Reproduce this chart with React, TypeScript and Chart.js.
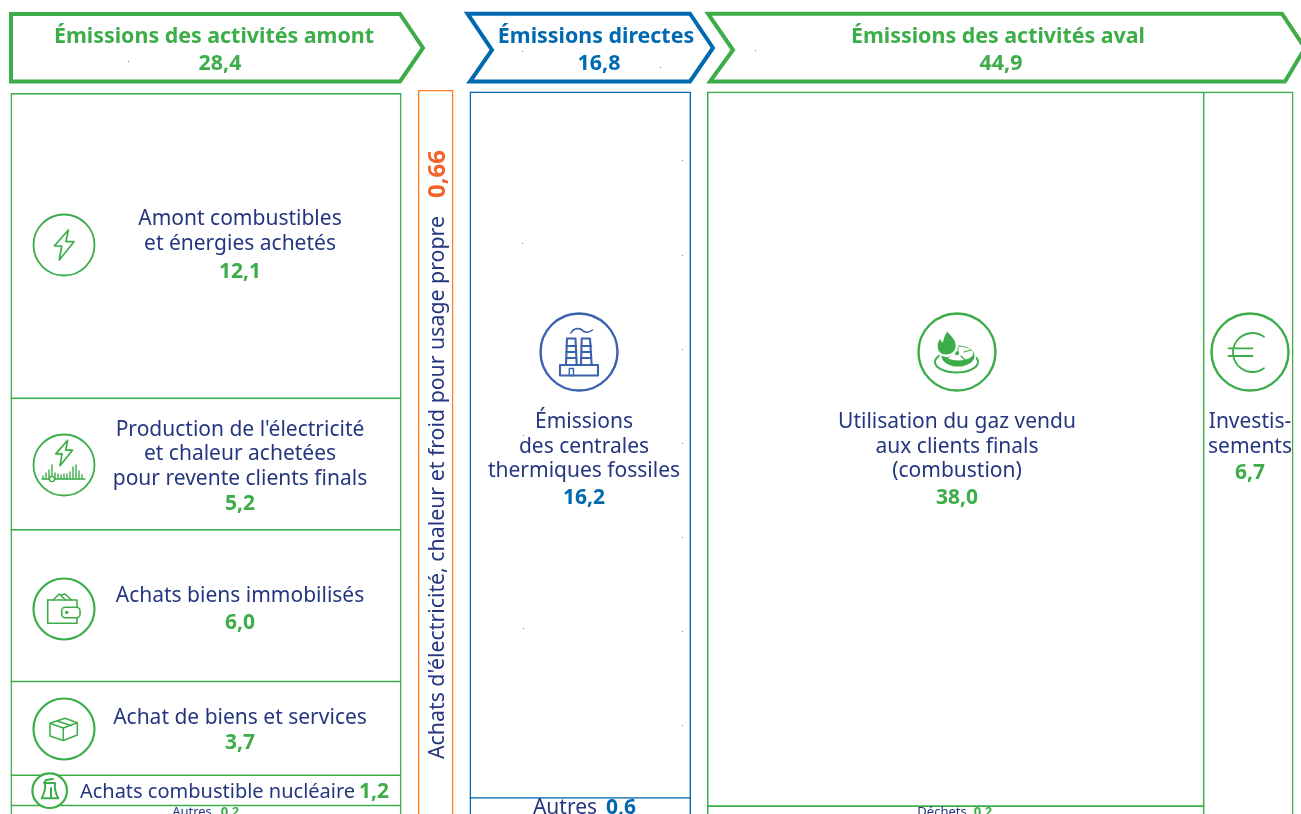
import React, { useEffect, useRef } from "react";
import { Chart, registerables } from "chart.js";

Chart.register(...registerables);

// ---------- data ----------
const upstreamCategories = ["Amont combustibles et énergies achetés", "Production de l'électricité et chaleur achetées pour revente clients finals", "Achats biens immobilisés", "Achat de biens et services", "Achats combustible nucléaire", "Autres"];
const upstreamValues = [12.1, 5.2, 6.0, 3.7, 1.2, 0.2];
const directCategories = ["Émissions des centrales thermiques fossiles", "Autres"];
const directValues = [16.2, 0.6];
const downstreamCategories = ["Utilisation du gaz vendu aux clients finals (combustion)", "Déchets"];
const downstreamValues = [38.0, 0.2];
const investmentValues = [6.7];
const ownUseValues = [0.66];
const headerTotals = ["28,4", "16,8", "44,9"];

// ---------- layout and style (px) ----------
const W = 1301, H = 814;
const GREEN = "#3DAD49", BLUE = "#0069AF", ORANGE = "#FF7F1E", VALUE_ORANGE = "#F2622A", NAVY = "#24367F", ICON_BLUE = "#3B62AE";
const FONT = "'Noto Sans'";

type Col = { id: string; cats: string[]; vals: number[]; x0: number; x1: number; top: number; ppu: number; color: string; lw: number };
const columns: Col[] = [
  { id: "yUp", cats: upstreamCategories, vals: upstreamValues, x0: 10.5, x1: 401.5, top: 93, ppu: 25.3, color: GREEN, lw: 1.7 },
  { id: "yOwn", cats: ["Achats d'électricité, chaleur et froid pour usage propre"], vals: ownUseValues, x0: 418, x1: 453.5, top: 90, ppu: 1200, color: ORANGE, lw: 1.6 },
  { id: "yDirect", cats: directCategories, vals: directValues, x0: 469.5, x1: 691, top: 91.5, ppu: 43.66, color: BLUE, lw: 1.6 },
  { id: "yDown", cats: downstreamCategories, vals: downstreamValues, x0: 707, x1: 1204.5, top: 91.5, ppu: 18.83, color: GREEN, lw: 1.7 },
  { id: "yInv", cats: ["Investissements"], vals: investmentValues, x0: 1202.8, x1: 1293.5, top: 91.5, ppu: 115, color: GREEN, lw: 1.7 },
];

function buildDatasets() {
  const ds: any[] = [];
  columns.forEach((c) => {
    const center = (c.x0 + c.x1) / 2;
    const thick = c.x1 - c.x0;
    const common = { type: "bar", yAxisID: c.id, stack: "sheet", barThickness: thick, borderColor: c.color, borderSkipped: false, inflateAmount: 0 };
    ds.push({ ...common, label: c.id + " frame", order: 5, backgroundColor: "#fff", borderWidth: c.lw, data: [{ x: center, y: [0, 60] }] });
    let sum = 0;
    c.vals.forEach((v, i) => {
      const isLast = i === c.vals.length - 1;
      ds.push({
        ...common, label: c.cats[i], order: 1, backgroundColor: "rgba(255,255,255,0)",
        borderWidth: { top: 0, left: 0, right: 0, bottom: isLast ? 0 : c.lw },
        data: [{ x: center, y: [sum, sum + v] }],
      });
      sum += v;
    });
  });
  return ds;
}

function buildScales() {
  const s: any = { x: { type: "linear", display: false, min: 0, max: W, offset: false, stacked: true } };
  columns.forEach((c) => {
    s[c.id] = { type: "linear", axis: "y", display: false, reverse: true, min: -c.top / c.ppu, max: (H - c.top) / c.ppu, stacked: false };
  });
  return s;
}

type T = [string, number, number, string, string];
const REG = `400 21px ${FONT}`, BOLD = `700 21px ${FONT}`, HEAD = `700 21.4px ${FONT}`, SMALL = `400 13px ${FONT}`, SMALLB = `700 13px ${FONT}`, NARROW = `400 20px ${FONT}`;
const texts: T[] = [
  ["Émissions des activités amont", 214, 37, HEAD, GREEN],
  [headerTotals[0], 220, 64, HEAD, GREEN],
  ["Émissions directes", 596, 37, HEAD, BLUE],
  [headerTotals[1], 599, 64, HEAD, BLUE],
  ["Émissions des activités aval", 998, 37, HEAD, GREEN],
  [headerTotals[2], 1001, 64, HEAD, GREEN],
  ["Amont combustibles", 240, 219, REG, NAVY],
  ["et énergies achetés", 240, 244, REG, NAVY],
  ["12,1", 240, 272, BOLD, GREEN],
  ["Production de l'électricité", 240, 430, REG, NAVY],
  ["et chaleur achetées", 240, 454, REG, NAVY],
  ["pour revente clients finals", 240, 479, REG, NAVY],
  ["5,2", 240, 504, BOLD, GREEN],
  ["Achats biens immobilisés", 240, 596, REG, NAVY],
  ["6,0", 240, 623, BOLD, GREEN],
  ["Achat de biens et services", 240, 718, REG, NAVY],
  ["3,7", 240, 743, BOLD, GREEN],
  ["Achats combustible nucléaire", 217.5, 792, NARROW, NAVY],
  ["1,2", 374, 792, BOLD, GREEN],
  ["Autres", 192, 812, SMALL, NAVY],
  ["0,2", 230, 812, SMALLB, GREEN],
  ["Émissions", 584, 422, REG, NAVY],
  ["des centrales", 584, 447, REG, NAVY],
  ["thermiques fossiles", 584, 471, REG, NAVY],
  ["16,2", 584, 498, BOLD, BLUE],
  ["Autres", 565, 808, REG, NAVY],
  ["0,6", 621, 808, BOLD, BLUE],
  ["Utilisation du gaz vendu", 957, 422, REG, NAVY],
  ["aux clients finals", 957, 447, REG, NAVY],
  ["(combustion)", 957, 471, REG, NAVY],
  ["38,0", 957, 498, BOLD, GREEN],
  ["Investis-", 1250, 422, REG, NAVY],
  ["sements", 1250, 447, REG, NAVY],
  ["6,7", 1250, 473, BOLD, GREEN],
  ["Déchets", 942, 812, SMALL, NAVY],
  ["0,2", 983, 812, SMALLB, GREEN],
];

const specks = [[128, 61], [522, 51], [660, 67], [755, 50], [682, 160], [522, 243], [682, 255], [682, 349], [682, 443], [682, 537], [682, 631], [682, 725], [523, 628], [523, 435]];

function poly(ctx: CanvasRenderingContext2D, pts: number[][], close = true) {
  ctx.beginPath();
  pts.forEach((p, i) => (i ? ctx.lineTo(p[0], p[1]) : ctx.moveTo(p[0], p[1])));
  if (close) ctx.closePath();
  ctx.stroke();
}
function circle(ctx: CanvasRenderingContext2D, x: number, y: number, r: number, lw: number, color: string) {
  ctx.strokeStyle = color; ctx.lineWidth = lw;
  ctx.beginPath(); ctx.arc(x, y, r, 0, Math.PI * 2); ctx.stroke();
}
function bolt(ctx: CanvasRenderingContext2D, cx: number, cy: number, s: number) {
  poly(ctx, [[4.3, -15], [-9.7, 1], [-2.3, 1], [-4.7, 15], [10, -3.3], [2, -3.3]].map(([x, y]) => [cx + x * s, cy + y * s]));
}
function drawIcons(ctx: CanvasRenderingContext2D) {
  ctx.save();
  ctx.lineJoin = "round"; ctx.lineCap = "round";
  // bolt
  circle(ctx, 64, 245, 30.5, 1.8, GREEN);
  ctx.lineWidth = 1.7; bolt(ctx, 64, 245, 1);
  // bolt and grid
  circle(ctx, 64, 465, 30.5, 1.8, GREEN);
  ctx.lineWidth = 1.7; bolt(ctx, 64, 453, 0.85);
  const bars = [[43, 3], [46, 6], [49, 9], [52, 14], [55, 6], [58, 5], [61, 4], [64, 5], [67, 5], [70, 7], [73, 12], [76, 14], [79, 8], [82, 4]];
  ctx.lineWidth = 1.4;
  bars.forEach(([x, h]) => poly(ctx, [[x, 479], [x, 479 - h]], false));
  poly(ctx, [[42, 479], [85, 479]], false);
  ctx.fillStyle = "#fff"; ctx.beginPath(); ctx.arc(52, 479, 2.6, 0, Math.PI * 2); ctx.fill(); ctx.stroke();
  // wallet
  circle(ctx, 64, 609, 30.5, 2.2, GREEN);
  ctx.lineWidth = 1.6;
  poly(ctx, [[53, 600], [59.3, 594], [65.5, 600]], false);
  poly(ctx, [[61.5, 595], [65, 594], [71.5, 600]], false);
  poly(ctx, [[47.7, 600], [77, 600], [77, 607.3]], false);
  poly(ctx, [[47.7, 600], [47.7, 623.3], [77, 623.3], [77, 617.7]], false);
  ctx.beginPath(); ctx.roundRect(61.7, 607.3, 18.3, 10.4, 3.5); ctx.fillStyle = "#fff"; ctx.fill(); ctx.stroke();
  ctx.fillStyle = GREEN; ctx.beginPath(); ctx.arc(66.8, 612.4, 1.7, 0, Math.PI * 2); ctx.fill();
  // box
  circle(ctx, 64, 729, 30.5, 2.2, GREEN);
  ctx.lineWidth = 1.5;
  poly(ctx, [[50, 723.3], [65, 718.3], [77.3, 722.7], [63.3, 728]]);
  poly(ctx, [[50, 723.3], [50, 736], [63.3, 740.5], [77.3, 735], [77.3, 722.7]], false);
  poly(ctx, [[63.3, 728], [63.3, 740.5]], false);
  poly(ctx, [[57, 721], [71, 725.5]], false);
  // nuclear
  ctx.fillStyle = "#fff"; ctx.beginPath(); ctx.arc(49.7, 790.7, 17.3, 0, Math.PI * 2); ctx.fill();
  circle(ctx, 49.7, 790.7, 17.3, 2.2, GREEN);
  ctx.lineWidth = 2;
  ctx.beginPath(); ctx.moveTo(41.7, 798.3); ctx.quadraticCurveTo(46, 790, 45, 783); ctx.lineTo(55, 783); ctx.quadraticCurveTo(54, 791, 58.3, 798.3); ctx.closePath(); ctx.stroke();
  poly(ctx, [[44, 783], [46, 780], [53, 779]], false);
  poly(ctx, [[51, 788], [51, 797]], false);
  // factory
  circle(ctx, 579, 352, 38.5, 2.4, ICON_BLUE);
  ctx.lineWidth = 2.1;
  ctx.strokeRect(560, 365, 38, 10.5);
  ctx.lineWidth = 1.4;
  ctx.strokeRect(569.3, 368.5, 4.2, 7);
  ctx.lineWidth = 2.1;
  [[567, 575.5, 566, 576.7], [581.7, 590, 581, 591.7]].forEach(([a, b, c, d]) => {
    poly(ctx, [[c, 365], [a, 338.5], [b, 338.5], [d, 365]], false);
    [346, 352, 358].forEach((y) => poly(ctx, [[c + 0.5, y], [d - 0.5, y]], false));
  });
  ctx.lineWidth = 1.6;
  ctx.beginPath(); ctx.moveTo(571, 333); ctx.bezierCurveTo(574, 327, 581, 328, 583, 331); ctx.bezierCurveTo(586, 333, 590, 332, 592.5, 330); ctx.stroke();
  // gas burner
  circle(ctx, 957, 352, 38.5, 2.4, GREEN);
  ctx.lineWidth = 2;
  ctx.beginPath(); ctx.ellipse(956.5, 362, 21.5, 10.5, 0, 0, Math.PI * 2); ctx.stroke();
  ctx.fillStyle = "#fff"; ctx.beginPath(); ctx.ellipse(958, 355, 18.5, 12.5, 0, 0, Math.PI * 2); ctx.fill();
  ctx.fillStyle = GREEN; ctx.beginPath(); ctx.ellipse(958, 356, 16.5, 10.5, 0, 0, Math.PI * 2); ctx.fill();
  ctx.fillStyle = "#fff"; ctx.beginPath(); ctx.ellipse(958.5, 353.5, 14.5, 7, 0, 0, Math.PI * 2); ctx.fill();
  ctx.lineWidth = 1.2;
  poly(ctx, [[958, 347], [958, 350]], false);
  poly(ctx, [[964, 352], [971, 350]], false);
  poly(ctx, [[952, 355], [947, 358]], false);
  poly(ctx, [[961, 356], [965, 360]], false);
  ctx.fillStyle = GREEN; ctx.beginPath(); ctx.arc(957, 353, 2.2, 0, Math.PI * 2); ctx.fill();
  ctx.fillStyle = "#fff";
  ctx.beginPath(); ctx.arc(947, 346, 11, 0, Math.PI * 2); ctx.fill();
  ctx.fillStyle = GREEN;
  ctx.beginPath();
  ctx.moveTo(947, 331.5); ctx.bezierCurveTo(951, 336, 956, 340, 955.7, 346); ctx.bezierCurveTo(955.5, 352, 950, 354.5, 946, 354.5);
  ctx.bezierCurveTo(941, 354.5, 937.5, 351, 937.7, 346); ctx.bezierCurveTo(937.8, 343, 939, 340, 940, 339); ctx.bezierCurveTo(941, 341, 942, 342, 943, 342.5); ctx.bezierCurveTo(943.5, 339, 945, 335, 947, 331.5);
  ctx.closePath(); ctx.fill();
  // euro
  circle(ctx, 1250, 352, 38.5, 2.4, GREEN);
  ctx.lineWidth = 1.8;
  ctx.beginPath(); ctx.arc(1252.5, 352.5, 19.5, -Math.PI * 0.3, Math.PI * 0.3, true); ctx.stroke();
  poly(ctx, [[1228.5, 348.3], [1252.5, 348.3]], false);
  poly(ctx, [[1228.5, 356], [1252.5, 356]], false);
  ctx.restore();
}

const sheetPlugin = {
  id: "sheet",
  afterDatasetsDraw(chart: any) {
    const ctx: CanvasRenderingContext2D = chart.ctx;
    ctx.save();
    ctx.lineJoin = "miter";
    // header chevrons
    ctx.lineWidth = 4;
    ctx.strokeStyle = GREEN;
    poly(ctx, [[11, 14], [400, 14], [423, 48], [400, 81.5], [11, 81.5]]);
    poly(ctx, [[708, 13.7], [1282, 13.7], [1305, 48], [1285, 81.5], [710, 81.5], [733, 50]]);
    ctx.strokeStyle = BLUE;
    poly(ctx, [[467.5, 13.7], [690, 13.7], [713, 48], [690, 81.5], [470, 81.5], [492, 50]]);
    // texts
    ctx.textAlign = "center"; ctx.textBaseline = "middle";
    texts.forEach(([t, x, y, font, color]) => { ctx.font = font; ctx.fillStyle = color; ctx.fillText(t, x, y); });
    // rotated column
    ctx.save();
    ctx.translate(438, 759); ctx.rotate(-Math.PI / 2); ctx.textAlign = "left";
    ctx.font = `400 21.3px ${FONT}`; ctx.fillStyle = NAVY; ctx.fillText(columns[1].cats[0], 0, 0);
    ctx.translate(561, 0);
    ctx.font = `700 24px ${FONT}`; ctx.fillStyle = VALUE_ORANGE; ctx.fillText("0,66", 0, 0);
    ctx.restore();
    ctx.fillStyle = "#777";
    specks.forEach(([x, y]) => ctx.fillRect(x, y, 1, 1));
    ctx.restore();
    drawIcons(ctx);
  },
};

export default function App() {
  const ref = useRef<HTMLCanvasElement>(null);
  useEffect(() => {
    document.body.style.margin = "0";
    const chart = new Chart(ref.current!, {
      type: "bar",
      data: { datasets: buildDatasets() } as any,
      options: {
        responsive: false,
        animation: false,
        layout: { padding: 0 },
        plugins: { legend: { display: false }, tooltip: { enabled: false }, title: { display: false } },
        scales: buildScales(),
      } as any,
      plugins: [sheetPlugin],
    });
    return () => chart.destroy();
  }, []);
  return (
    <div style={{ width: W, height: H, overflow: "hidden", background: "#fff" }}>
      <canvas ref={ref} width={W} height={H} style={{ display: "block" }} />
    </div>
  );
}
